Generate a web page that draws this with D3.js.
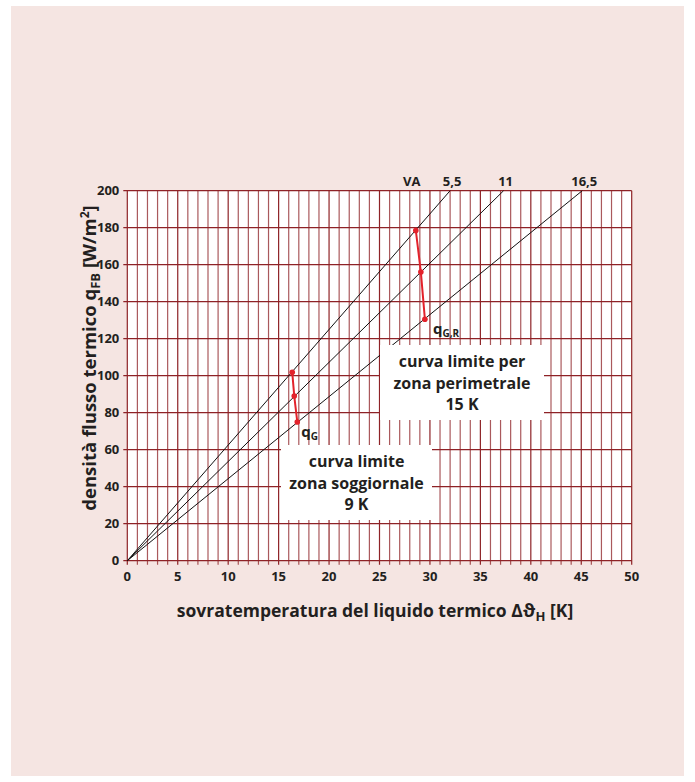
<!DOCTYPE html>
<html>
<head>
<meta charset="utf-8">
<script src="https://cdn.jsdelivr.net/npm/d3@7"></script>
<style>
  html, body { margin: 0; padding: 0; background: #ffffff; }
  svg { display: block; }
  text { font-family: "Open Sans", "Noto Sans", sans-serif; font-weight: 700; fill: #231f20; }
</style>
</head>
<body>
<svg id="chart" width="695" height="782"></svg>
<script>
// Axis ticks
const xTicks = [0, 5, 10, 15, 20, 25, 30, 35, 40, 45, 50];
const yTicks = [0, 20, 40, 60, 80, 100, 120, 140, 160, 180, 200];

// Characteristic curves: name and overtemperature at which q reaches 200 W/m²
const curveNames = ["5,5", "11", "16,5"];
const curveTopX = [32.0, 37.3, 45.1];

// Limit curve for the living zone (9 K): points on the three curves
const limitG_x = [16.35, 16.55, 16.85];
const limitG_q = [101.8, 89.0, 75.0];

// Limit curve for the perimeter zone (15 K)
const limitGR_x = [28.6, 29.1, 29.5];
const limitGR_q = [178.5, 156.0, 130.5];

const svg = d3.select("#chart");

// card background
svg.append("rect").attr("x", 11).attr("y", 6).attr("width", 673).attr("height", 770)
  .attr("fill", "#f5e5e2");

const x = d3.scaleLinear().domain([0, 50]).range([127.3, 631.7]);
const y = d3.scaleLinear().domain([0, 200]).range([560.7, 190.7]);

// plot area
svg.append("rect")
  .attr("x", x(0)).attr("y", y(200))
  .attr("width", x(50) - x(0)).attr("height", y(0) - y(200))
  .attr("fill", "#ffffff");

const grid = svg.append("g");
const gridColor = "#8e2226";

// vertical grid lines, one per kelvin, extending slightly below the axis
grid.selectAll("line.v").data(d3.range(0, 51)).join("line")
  .attr("x1", d => x(d)).attr("x2", d => x(d))
  .attr("y1", y(200)).attr("y2", y(0) + 4)
  .attr("stroke", gridColor)
  .attr("stroke-opacity", d => d % 5 === 0 ? 1 : 0.75)
  .attr("stroke-width", 1.2);

// horizontal grid lines every 20 W/m², extending slightly left of the axis
grid.selectAll("line.h").data(yTicks).join("line")
  .attr("x1", x(0) - 4).attr("x2", x(50))
  .attr("y1", d => y(d)).attr("y2", d => y(d))
  .attr("stroke", gridColor)
  .attr("stroke-width", 1.3);

// characteristic lines from the origin
const curves = curveNames.map((n, i) => ({ name: n, x0: 0, q0: 0, x1: curveTopX[i], q1: 200 }));
svg.append("g").selectAll("line").data(curves).join("line")
  .attr("x1", d => x(d.x0)).attr("y1", d => y(d.q0))
  .attr("x2", d => x(d.x1)).attr("y2", d => y(d.q1))
  .attr("stroke", "#111111").attr("stroke-width", 1);

// curve labels at the top
svg.append("g").selectAll("text").data(curves).join("text")
  .attr("x", d => x(d.x1) + 2).attr("y", y(200) - 5)
  .attr("text-anchor", "middle").attr("font-size", 13)
  .text(d => d.name);
svg.append("text").attr("x", x(28.2)).attr("y", y(200) - 5)
  .attr("text-anchor", "middle").attr("font-size", 13).text("VA");

// white label boxes covering the grid
function labelBox(x0, y0, w, h, lines) {
  svg.append("rect").attr("x", x0).attr("y", y0).attr("width", w).attr("height", h)
    .attr("fill", "#ffffff");
  lines.forEach((t, i) => {
    svg.append("text").attr("x", x0 + w / 2).attr("y", y0 + 22 + i * 21.5)
      .attr("text-anchor", "middle").attr("font-size", 16).text(t);
  });
}
labelBox(380, 345, 164, 75, ["curva limite per", "zona perimetrale", "15 K"]);
labelBox(281, 445, 151, 75, ["curva limite", "zona soggiornale", "9 K"]);

// limit curves in red
const red = "#e3222b";
function limitCurve(xs, qs) {
  const pts = xs.map((v, i) => [v, qs[i]]);
  svg.append("path").datum(pts)
    .attr("d", d3.line().x(d => x(d[0])).y(d => y(d[1])))
    .attr("fill", "none").attr("stroke", red).attr("stroke-width", 2);
  svg.append("g").selectAll("circle").data(pts).join("circle")
    .attr("cx", d => x(d[0])).attr("cy", d => y(d[1])).attr("r", 2.8)
    .attr("fill", red);
}
limitCurve(limitG_x, limitG_q);
limitCurve(limitGR_x, limitGR_q);

// point labels with subscripts
function subLabel(px, py, main, sub) {
  const t = svg.append("text").attr("x", px).attr("y", py).attr("font-size", 15);
  t.append("tspan").text(main);
  t.append("tspan").attr("dy", 3).attr("font-size", 10).text(sub);
}
subLabel(x(limitG_x[2]) + 4, y(limitG_q[2]) + 15, "q", "G");
subLabel(x(limitGR_x[2]) + 8, y(limitGR_q[2]) + 15, "q", "G,R");

// tick labels
svg.append("g").selectAll("text").data(xTicks).join("text")
  .attr("x", d => x(d)).attr("y", y(0) + 20)
  .attr("text-anchor", "middle").attr("font-size", 13)
  .text(d => d);
svg.append("g").selectAll("text").data(yTicks).join("text")
  .attr("x", x(0) - 8).attr("y", d => y(d) + 4.5)
  .attr("text-anchor", "end").attr("font-size", 13)
  .text(d => d);

// axis titles
const xt = svg.append("text").attr("x", 375).attr("y", 617)
  .attr("text-anchor", "middle").attr("font-size", 17.5);
xt.append("tspan").text("sovratemperatura del liquido termico Δϑ");
xt.append("tspan").attr("dy", 4).attr("font-size", 13).text("H");
xt.append("tspan").attr("dy", -4).text(" [K]");

const yt = svg.append("text")
  .attr("transform", "translate(96, 358) rotate(-90)")
  .attr("text-anchor", "middle").attr("font-size", 18.5);
yt.append("tspan").text("densità flusso termico q");
yt.append("tspan").attr("dy", 4).attr("font-size", 13).text("FB");
yt.append("tspan").attr("dy", -4).text(" [W/m");
yt.append("tspan").attr("dy", -7).attr("font-size", 12).text("2");
yt.append("tspan").attr("dy", 7).text("]");
</script>
</body>
</html>
